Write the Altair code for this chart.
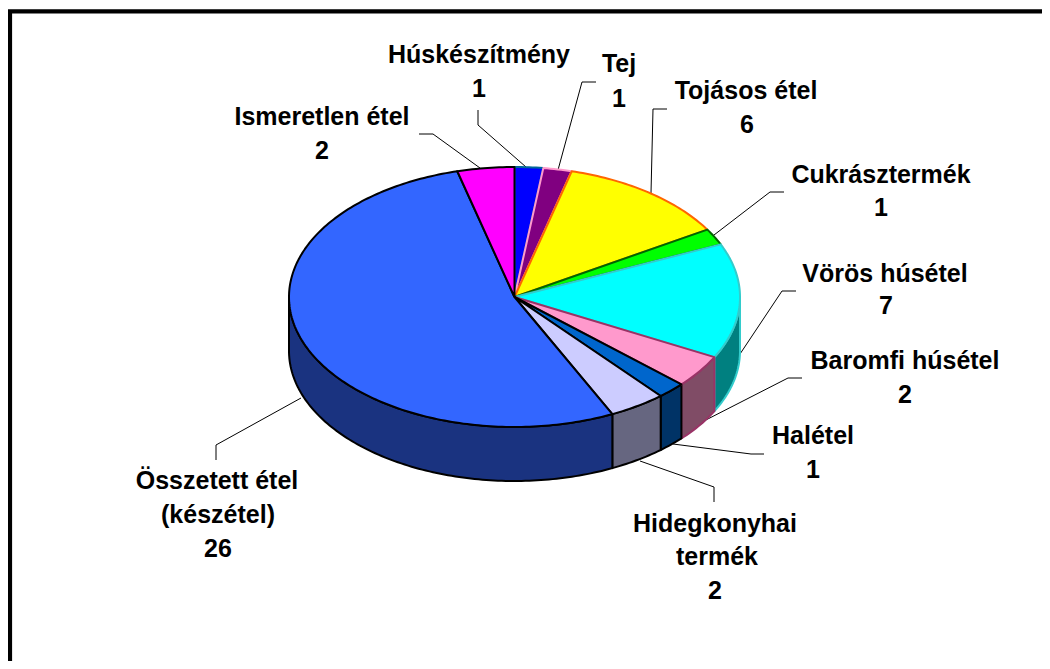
import math
import altair as alt
import pandas as pd

# --- chart values ---
CATEGORIES = ["Húskészítmény", "Tej", "Tojásos étel", "Cukrásztermék", "Vörös húsétel",
              "Baromfi húsétel", "Halétel", "Hidegkonyhai termék", "Összetett étel (készétel)",
              "Ismeretlen étel"]
VALUES = [1, 1, 6, 1, 7, 2, 1, 2, 26, 2]

# --- styles ---
FILLS = ["#0000FF", "#800080", "#FFFF00", "#00FF00", "#00FFFF",
         "#FF99CC", "#0066CC", "#CCCCFF", "#3366FF", "#FF00FF"]
SIDES = ["#000080", "#400040", "#808000", "#008000", "#008080",
         "#804C66", "#003366", "#666680", "#1A3380", "#800080"]
EDGES = ["#006699", "#FF99CC", "#FF6600", "#006600", "#33CCCC",
         "#993366", "#000000", "#000000", "#000000", "#000000"]

# --- layout (page pixels) ---
CX, CY, RX, RY, DEPTH = 514.5, 297.0, 225.5, 130.0, 54.0
W, H = 1034, 653

LABEL_LINES = [
    ("Húskészítmény", 479, 63), ("1", 479, 97),
    ("Tej", 619, 72), ("1", 619, 107),
    ("Tojásos étel", 746, 99), ("6", 747, 133),
    ("Cukrásztermék", 881, 183), ("1", 881, 216),
    ("Vörös húsétel", 885, 282), ("7", 886, 314),
    ("Baromfi húsétel", 905, 369), ("2", 905, 403),
    ("Halétel", 813, 444), ("1", 813, 478),
    ("Hidegkonyhai", 715, 532), ("termék", 717, 565), ("2", 715, 599),
    ("Összetett étel", 217, 489), ("(készétel)", 218, 523), ("26", 218, 557),
    ("Ismeretlen étel", 322, 125), ("2", 322, 159),
]
LEADERS = [
    [(478, 110), (478, 125), (526, 167)],
    [(596, 82), (582, 82), (558, 170)],
    [(667, 109), (653, 109), (651, 193)],
    [(784, 192), (770, 192), (714, 235)],
    [(796, 291), (782, 291), (740, 354)],
    [(802, 378), (788, 378), (698, 424)],
    [(764, 454), (751, 454), (673, 444)],
    [(714, 502), (714, 487), (640, 461)],
    [(216, 460), (216, 445), (301, 398)],
    [(419, 134), (433, 134), (480, 168)],
]
FRAME = [(10, 661), (10, 11.3), (1042, 11.3)]


def rim(theta_deg, drop=0.0):
    t = math.radians(theta_deg)
    return CX + RX * math.sin(t), CY - RY * math.cos(t) + drop


def arc_angles(a, b):
    n = max(2, int(abs(b - a)) + 1)
    return [a + (b - a) * k / n for k in range(n + 1)]


total = sum(VALUES)
rows = []
pid = 0


def add_poly(points, fill, stroke):
    global pid
    pts = list(points) + [points[0]]
    for i, (x, y) in enumerate(pts):
        rows.append({"pid": pid, "i": i, "x": x, "y": y, "fill": fill, "stroke": stroke})
    pid += 1


cum = 0
spans = []
for v in VALUES:
    a = cum / total * 360
    cum += v
    spans.append((a, cum / total * 360))

# side walls (only the front half of the rim shows)
for (a, b), side, edge in zip(spans, SIDES, EDGES):
    lo, hi = max(a, 90), min(b, 270)
    if lo < hi:
        ang = arc_angles(lo, hi)
        add_poly([rim(t) for t in ang] + [rim(t, DEPTH) for t in reversed(ang)], side, edge)

# top faces
for (a, b), fill, edge in zip(spans, FILLS, EDGES):
    add_poly([(CX, CY)] + [rim(t) for t in arc_angles(a, b)], fill, edge)

poly_df = pd.DataFrame(rows)

leader_rows = []
for n, pts in enumerate(LEADERS):
    for i, (x, y) in enumerate(pts):
        leader_rows.append({"n": n, "i": i, "x": x, "y": y})
leader_df = pd.DataFrame(leader_rows)

frame_df = pd.DataFrame([{"i": i, "x": x, "y": y} for i, (x, y) in enumerate(FRAME)])
label_df = pd.DataFrame(LABEL_LINES, columns=["t", "x", "y"])

xs = alt.Scale(domain=[8, 8 + W], range=[0, W], nice=False, zero=False)
ys = alt.Scale(domain=[8, 8 + H], range=[0, H], nice=False, zero=False)
X = alt.X("x:Q", scale=xs, axis=None)
Y = alt.Y("y:Q", scale=ys, axis=None)

polys = alt.Chart(poly_df).mark_line(filled=True, strokeWidth=2, strokeJoin="round", clip=False).encode(
    x=X, y=Y, order=alt.Order("i:Q"), detail="pid:N",
    fill=alt.Fill("fill:N", scale=None), stroke=alt.Stroke("stroke:N", scale=None),
)
leaders = alt.Chart(leader_df).mark_line(color="#000000", strokeWidth=1).encode(
    x=X, y=Y, order=alt.Order("i:Q"), detail="n:N"
)
frame = alt.Chart(frame_df).mark_line(color="#000000", strokeWidth=4.2, strokeJoin="miter").encode(
    x=X, y=Y, order=alt.Order("i:Q")
)
labels = alt.Chart(label_df).mark_text(
    font="Liberation Sans", fontWeight="bold", fontSize=25, align="center", baseline="alphabetic", color="#000000"
).encode(x=X, y=Y, text="t:N")

chart = (leaders + polys + frame + labels).properties(
    width=W, height=H, padding=0, background="#FFFFFF",
    autosize=alt.AutoSizeParams(type="none"),
).configure_view(stroke=None)

chart.save("out.html", embed_options={"renderer": "svg", "actions": False})
